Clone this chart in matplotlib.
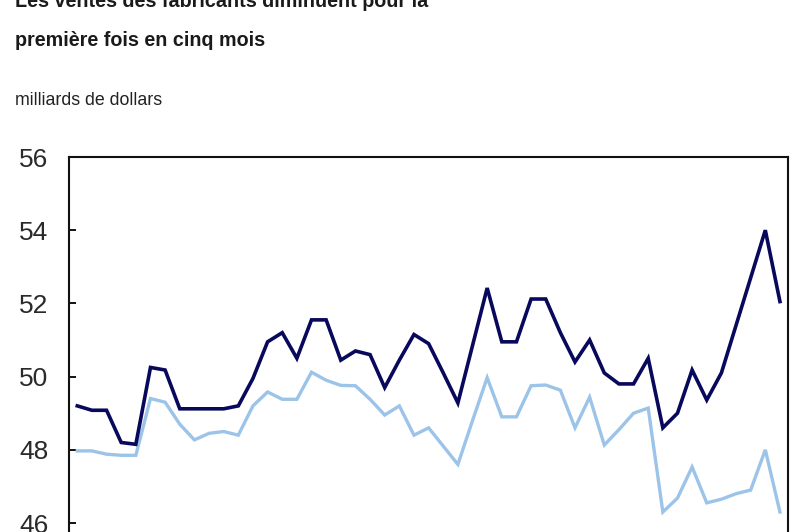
import matplotlib
matplotlib.use("Agg")
import matplotlib.pyplot as plt

# Monthly manufacturing sales, billions of dollars (49 months)
dark_values = [49.2, 49.08, 49.08, 48.2, 48.15, 50.25, 50.18, 49.12, 49.12, 49.12,
               49.12, 49.2, 49.95, 50.95, 51.2, 50.5, 51.55, 51.55, 50.45, 50.7,
               50.6, 49.7, 50.45, 51.15, 50.9, 50.1, 49.28, 50.85, 52.42, 50.95,
               50.95, 52.12, 52.12, 51.2, 50.4, 51.0, 50.1, 49.8, 49.8, 50.5,
               48.6, 49.0, 50.18, 49.36, 50.1, 51.4, 52.7, 54.0, 52.05]
light_values = [47.97, 47.97, 47.88, 47.85, 47.85, 49.4, 49.3, 48.7, 48.27, 48.45,
                48.5, 48.4, 49.2, 49.58, 49.38, 49.38, 50.12, 49.9, 49.76, 49.75,
                49.38, 48.95, 49.2, 48.4, 48.6, 48.1, 47.6, 48.8, 49.97, 48.9,
                48.9, 49.75, 49.77, 49.63, 48.6, 49.44, 48.13, 48.55, 49.0, 49.14,
                46.3, 46.68, 47.53, 46.55, 46.65, 46.8, 46.9, 48.0, 46.3]
y_ticks = [46, 48, 50, 52, 54, 56]

title_line1 = "Les ventes des fabricants diminuent pour la"
title_line2 = "première fois en cinq mois"
unit_label = "milliards de dollars"

W, H = 800, 532
fig = plt.figure(figsize=(W / 100, H / 100), dpi=100)
fig.patch.set_facecolor("white")

regular = ["Liberation Sans", "DejaVu Sans"]

# axes placement: y=56 at 157 px from top, 36.6 px per unit
top_px = 157
ppu = 36.6
ymin = 45.6
bottom_px = top_px + (56 - ymin) * ppu
left_px, right_px = 68.5, 788
ax = fig.add_axes([left_px / W, 1 - bottom_px / H,
                   (right_px - left_px) / W, (bottom_px - top_px) / H])

x = list(range(len(dark_values)))
ax.plot(x, light_values, color="#9cc3e8", lw=2.4, solid_joinstyle="miter", zorder=2)
ax.plot(x, dark_values, color="#08085c", lw=2.6, solid_joinstyle="miter", zorder=3)

ax.set_xlim(-0.6, len(dark_values) - 1 + 0.55)
ax.set_ylim(ymin, 56)
ax.set_yticks(y_ticks)
ax.set_yticklabels([str(v) for v in y_ticks], family=regular, fontsize=19, color="#2a2a2a")
ax.set_xticks([])
ax.tick_params(axis="y", direction="in", length=5, width=1.3, pad=14.5, left=True)
for side in ["left", "top", "right"]:
    ax.spines[side].set_linewidth(1.5)
    ax.spines[side].set_color("#111111")
ax.spines["bottom"].set_visible(False)

fig.text(15 / W, 1 - 7 / H, title_line1, family=regular, weight="bold", fontsize=14.2,
         va="baseline", ha="left", color="#1a1a1a")
fig.text(15 / W, 1 - 46 / H, title_line2, family=regular, weight="bold", fontsize=14.2,
         va="baseline", ha="left", color="#1a1a1a")
fig.text(15 / W, 1 - 105 / H, unit_label, family=regular, fontsize=12.8,
         va="baseline", ha="left", color="#222222")

fig.savefig("out.png", dpi=100, facecolor="white")
